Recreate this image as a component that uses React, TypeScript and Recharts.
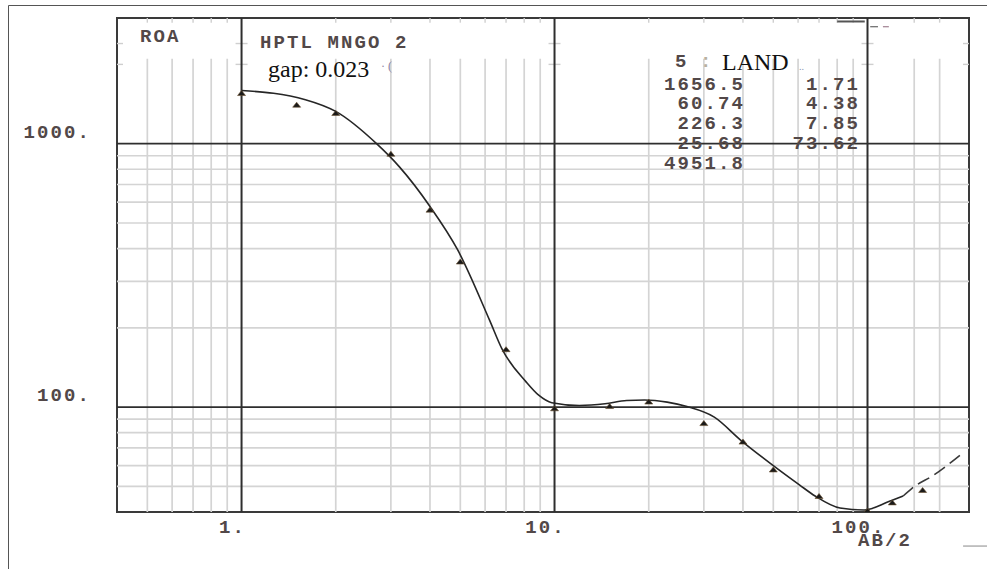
import { ComposedChart, Line, Scatter, XAxis, YAxis, ReferenceLine, ReferenceArea } from 'recharts'

// VES sounding: AB/2 (m) vs apparent resistivity (ohm.m)
const obsAB = [1, 1.5, 2, 3, 4, 5, 7, 10, 15, 20, 30, 40, 50, 70, 100, 120, 150]
const obsRho = [1557, 1406, 1308, 916, 562, 357, 166, 99, 101, 105, 87, 74, 58, 46, 40.5, 43.5, 48.5]

// fitted model curve
const fitAB = [1, 1.6, 2, 2.7, 3.2, 4, 4.9, 6.2, 6.8, 8.1, 8.9, 9.8, 12, 14.5, 17, 19.4, 22.9, 26.5, 32.4, 39.3, 48.8, 60.6, 68, 81.7, 97.5, 117, 130]
const fitRho = [1593, 1469, 1326, 1000, 815, 578, 396, 214, 166, 125, 111, 104, 101.5, 103, 106, 106.5, 104.5, 100.5, 91.6, 75, 61.3, 50.7, 46, 41.4, 40.7, 43.8, 46]

// extrapolated part (dashed)
const tailAB = [130, 139, 163, 198]
const tailRho = [46, 49.3, 55.3, 65.9]

// layer model: resistivity / thickness
const layerRho = ['1656.5', '60.74', '226.3', '25.68', '4951.8']
const layerH = ['1.71', '4.38', '7.85', '73.62']

const X_DOMAIN = [0.4, 211]
const Y_DOMAIN = [40, 3000]
const xTicks = [1, 10, 100]
const yTicks = [100, 1000]
const majorX = [1, 10, 100]
const majorY = [100, 1000]
const minorX = [0.5, 0.6, 0.7, 0.8, 0.9, 2, 3, 4, 5, 6, 7, 8, 9, 20, 30, 40, 50, 60, 70, 80, 90, 141, 170]
const minorY = [50, 60, 70, 80, 90, 200, 300, 400, 500, 600, 700, 800, 900]
const shortY = [2000, 2400]
const shortX = [0.4, 1, 10, 100, 211]

const obsData = obsAB.map((x, i) => ({ x, y: obsRho[i] }))
const fitData = fitAB.map((x, i) => ({ x, y: fitRho[i] }))
const tailData = tailAB.map((x, i) => ({ x, y: tailRho[i] }))

const MONO = '"Liberation Mono", "Courier New", monospace'
const SERIF = '"Liberation Serif", "Times New Roman", serif'
const labelStyle = { fontFamily: MONO, fontSize: 19, fontWeight: 700, fill: '#524848', letterSpacing: 2.1 }

function XTick({ x, payload }: any) {
  return (
    <text x={x - 9} y={528} textAnchor="middle" dominantBaseline="central" style={labelStyle}>
      {payload.value + '.'}
    </text>
  )
}

function YTick({ y, payload }: any) {
  return (
    <text x={91} y={y - 11} textAnchor="end" dominantBaseline="central" style={labelStyle}>
      {payload.value + '.'}
    </text>
  )
}

function Marker({ cx, cy }: any) {
  if (cx == null || cy == null) return null
  return <path d={`M${cx - 4},${cy + 2.5} L${cx},${cy - 2.5} L${cx + 4},${cy + 2.5} Z`} fill="#1a1a1a" stroke="#6a5030" strokeWidth={0.6} />
}

export default function App() {
  return (
    <div style={{ position: 'absolute', left: 0, top: 0, width: 987, height: 569, background: '#fff' }}>
      <ComposedChart width={987} height={569} margin={{ top: 18, right: 18, bottom: 0, left: 0 }}>
        <XAxis type="number" dataKey="x" scale="log" domain={X_DOMAIN} allowDataOverflow ticks={xTicks}
          tick={<XTick />} tickLine={false} axisLine={false} height={57} />
        <YAxis type="number" dataKey="y" scale="log" domain={Y_DOMAIN} allowDataOverflow ticks={yTicks}
          tick={<YTick />} tickLine={false} axisLine={false} width={117} />

        {minorY.map(v => (
          <ReferenceLine key={'my' + v} y={v} stroke="#d4d4d4" strokeWidth={1.7} />
        ))}
        {minorX.map(v => (
          <ReferenceLine key={'mx' + v} segment={[{ x: v, y: 40 }, { x: v, y: 2100 }]} stroke="#d4d4d4" strokeWidth={1.7} />
        ))}
        {minorX.map(v => (
          <ReferenceLine key={'tx' + v} segment={[{ x: v, y: 2880 }, { x: v, y: 3000 }]} stroke="#cfcfcf" strokeWidth={1.4} />
        ))}
        {shortY.flatMap(yv => shortX.map(xv => (
          <ReferenceLine key={'s' + yv + xv} ifOverflow="visible"
            segment={[{ x: Math.max(xv / 1.045, 0.4), y: yv }, { x: Math.min(xv * 1.045, 211), y: yv }]}
            stroke="#cfcfcf" strokeWidth={1.4} />
        )))}
        {majorY.map(v => (
          <ReferenceLine key={'My' + v} y={v} stroke="#2e2e2e" strokeWidth={1.8} />
        ))}
        {majorX.map(v => (
          <ReferenceLine key={'Mx' + v} x={v} stroke="#2e2e2e" strokeWidth={2} />
        ))}
        <ReferenceArea x1={X_DOMAIN[0]} x2={X_DOMAIN[1]} y1={Y_DOMAIN[0]} y2={Y_DOMAIN[1]}
          fill="none" fillOpacity={0} stroke="#3a3a3a" strokeWidth={2} ifOverflow="visible" />

        {/* bit of the model line that shows at the top edge */}
        <ReferenceLine segment={[{ x: 80, y: 2910 }, { x: 98, y: 2910 }]} stroke="#555" strokeWidth={2} />
        <ReferenceLine segment={[{ x: 102, y: 2780 }, { x: 108, y: 2780 }]} stroke="#666" strokeWidth={1.2} />
        <ReferenceLine segment={[{ x: 112, y: 2780 }, { x: 117, y: 2780 }]} stroke="#a08090" strokeWidth={1.2} />
        <ReferenceLine segment={[{ x: 202, y: 29.7 }, { x: 243, y: 29.7 }]} stroke="#b0b0b0" strokeWidth={1.5} ifOverflow="visible" />

        <Line data={fitData} dataKey="y" type="monotone" dot={false} stroke="#262626" strokeWidth={1.6} isAnimationActive={false} />
        <Line data={tailData} dataKey="y" type="monotone" dot={false} stroke="#3a3a3a" strokeWidth={1.6}
          strokeDasharray="13 6" isAnimationActive={false} />
        <Scatter data={obsData} dataKey="y" shape={<Marker />} isAnimationActive={false} />
      </ComposedChart>

      <svg width={987} height={569} style={{ position: 'absolute', left: 0, top: 0, pointerEvents: 'none' }}>
        <line x1={8.5} y1={5.5} x2={987} y2={5.5} stroke="#555" strokeWidth={1} />
        <line x1={8.5} y1={5.5} x2={8.5} y2={569} stroke="#555" strokeWidth={1} />

        <text x={140} y={37} dominantBaseline="central" style={labelStyle}>ROA</text>
        <text x={260} y={43} dominantBaseline="central" style={labelStyle}>HPTL MNGO 2</text>
        <text x={268} y={77} style={{ fontFamily: SERIF, fontSize: 24, fill: '#111' }}>gap: 0.023</text>
        <text x={381} y={70} style={{ fontFamily: SERIF, fontSize: 12, fill: '#8a80a0' }}>· (</text>

        <text x={675} y={62} dominantBaseline="central" style={labelStyle}>5</text>
        <text x={700} y={62} dominantBaseline="central" style={{ ...labelStyle, fill: '#b8b0a0' }}>:</text>
        <text x={722} y={70} style={{ fontFamily: SERIF, fontSize: 24, fill: '#111' }}>LAND</text>
        <text x={799} y={70} style={{ fontFamily: SERIF, fontSize: 10, fill: '#8890b0' }}>..</text>

        {layerRho.map((v, i) => (
          <text key={'r' + i} x={745} y={84.5 + i * 19.9} textAnchor="end" dominantBaseline="central" style={labelStyle}>{v}</text>
        ))}
        {layerH.map((v, i) => (
          <text key={'h' + i} x={860} y={84.5 + i * 19.9} textAnchor="end" dominantBaseline="central" style={labelStyle}>{v}</text>
        ))}

        <text x={858} y={541} dominantBaseline="central" style={labelStyle}>AB/2</text>
      </svg>
    </div>
  )
}
